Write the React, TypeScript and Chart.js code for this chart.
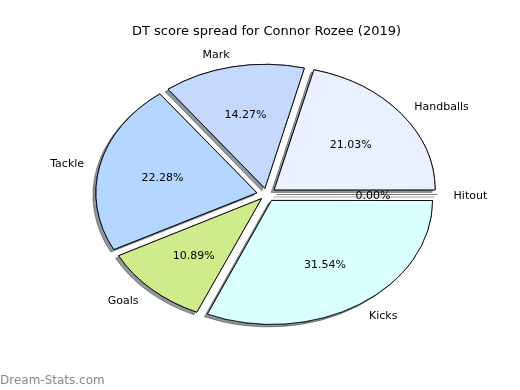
import { useEffect, useRef } from "react";
import { Chart, registerables } from "chart.js";

Chart.register(...registerables);

// Slices in counter-clockwise order starting at 3 o'clock (as in the reference)
const categories = ["Handballs", "Mark", "Tackle", "Goals", "Kicks", "Hitout"];
const shares = [21.03, 14.27, 22.28, 10.89, 31.54, 0.0];
const sliceColors = ["#eaf0ff", "#c5d9ff", "#b4d6ff", "#d0eb8b", "#daffff", "#ffdede"];
const titleText = "DT score spread for Connor Rozee (2019)";
const watermarkText = "Dream-Stats.com";

const RX = 161;
const RY = 124;
const EXPLODE = 0.062;
const FONT = "'DejaVu Sans', sans-serif";
const TEXT_DY = 1.5;

export default function App() {
  const ref = useRef<HTMLCanvasElement>(null);

  useEffect(() => {
    const canvas = ref.current!;
    const order = categories.map((_, i) => categories.length - 1 - i);
    const labels = order.map((i) => categories[i]);
    const data = order.map((i) => shares[i]);
    const bg = order.map((i) => sliceColors[i]);
    const total = data.reduce((a, b) => a + b, 0);
    const d = EXPLODE * RX;
    const k = RY / RX;
    const fixOf = (c: number) => 1 - Math.sin(Math.min(Math.PI, c || 0));
    const offsets = data.map((v) => {
      const c = (v / total) * 2 * Math.PI;
      return (4 * d) / (1 + fixOf(c));
    });

    const pieDecor = {
      id: "pieDecor",
      beforeDatasetsDraw(chart: any) {
        const meta = chart.getDatasetMeta(0);
        const el0 = meta.data[0];
        const cx = el0.x;
        const cy = el0.y;
        meta.data.forEach((el: any) => {
          const c = el.endAngle - el.startAngle;
          const fix = fixOf(c);
          el.outerRadius = RX - (d * fix) / (1 + fix);
        });
        const ctx = chart.ctx;
        ctx.save();
        ctx.translate(cx, cy);
        ctx.scale(1, k);
        ctx.translate(-cx, -cy);
        // shadow pass (covered afterwards by the normal draw)
        ctx.save();
        ctx.shadowColor = "rgba(40,46,56,0.5)";
        ctx.shadowOffsetX = -3;
        ctx.shadowOffsetY = 2.5;
        ctx.shadowBlur = 0;
        meta.data.forEach((el: any) => el.draw(ctx, chart.chartArea));
        meta.data.forEach((el: any) => {
          if (el.endAngle - el.startAngle === 0) {
            const a = el.startAngle;
            ctx.beginPath();
            ctx.moveTo(cx + Math.cos(a) * d, cy + Math.sin(a) * d);
            ctx.lineTo(cx + Math.cos(a) * (d + RX), cy + Math.sin(a) * (d + RX));
            ctx.strokeStyle = "#666";
            ctx.lineWidth = 1;
            ctx.stroke();
          }
        });
        ctx.restore();
      },
      afterDatasetsDraw(chart: any) {
        const meta = chart.getDatasetMeta(0);
        const ctx = chart.ctx;
        const cx = meta.data[0].x;
        const cy = meta.data[0].y;
        ctx.restore();

        ctx.save();
        ctx.fillStyle = "#000";
        ctx.textBaseline = "middle";
        meta.data.forEach((el: any, i: number) => {
          const a = (el.startAngle + el.endAngle) / 2;
          const ca = Math.cos(a);
          const sa = Math.sin(a);
          // percentage
          const rp = d + 0.6 * RX;
          ctx.font = `11px ${FONT}`;
          ctx.textAlign = "center";
          ctx.fillText(((data[i] / total) * 100).toFixed(2) + "%", cx + ca * rp, cy + sa * rp * k + TEXT_DY);
          // label
          const rl = d + 1.1 * RX;
          ctx.textAlign = ca > 0 ? "left" : "right";
          ctx.fillText(labels[i], cx + ca * rl, cy + sa * rl * k + TEXT_DY);
        });
        ctx.restore();
      },
      afterDraw(chart: any) {
        const ctx = chart.ctx;
        ctx.save();
        ctx.fillStyle = "#000";
        ctx.font = `13px ${FONT}`;
        ctx.textAlign = "center";
        ctx.textBaseline = "alphabetic";
        ctx.fillText(titleText, 266.5, 34.5);
        ctx.fillStyle = "#888888";
        ctx.font = `12px ${FONT}`;
        ctx.textAlign = "left";
        ctx.fillText(watermarkText, 0, 384);
        ctx.restore();
      },
    };

    const chart = new Chart(canvas, {
      type: "pie",
      data: {
        labels,
        datasets: [
          {
            data,
            backgroundColor: bg,
            borderColor: "#000",
            borderWidth: 1,
            offset: offsets,
          },
        ],
      },
      options: {
        responsive: false,
        animation: false,
        devicePixelRatio: 1,
        rotation: 90,
        radius: RX,
        layout: { padding: { left: 13, right: 0, top: 0, bottom: 1 } },
        plugins: {
          legend: { display: false },
          tooltip: { enabled: false },
          title: { display: false },
        },
        events: [],
      } as any,
      plugins: [pieDecor],
    });
    return () => chart.destroy();
  }, []);

  return (
    <canvas
      ref={ref}
      width={520}
      height={390}
      style={{ position: "absolute", left: 0, top: 0, width: 520, height: 390, background: "#fff" }}
    />
  );
}
